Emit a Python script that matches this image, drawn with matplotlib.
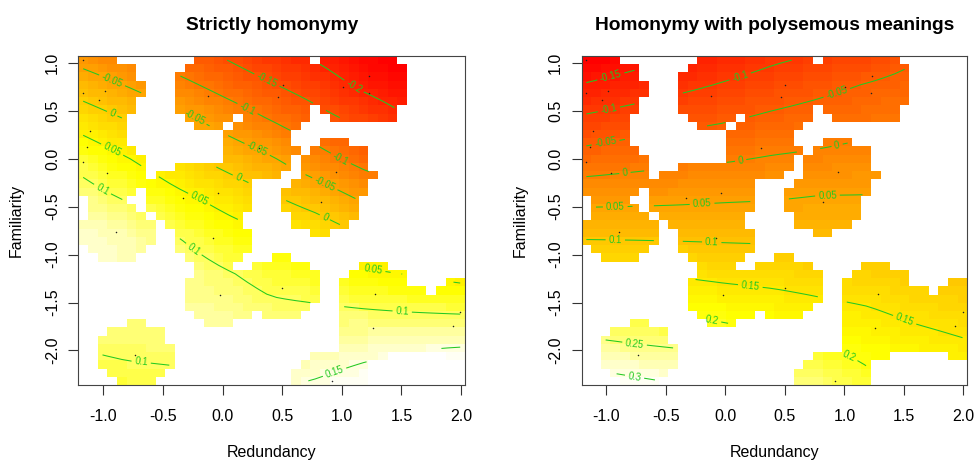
import colorsys
import numpy as np
import matplotlib
matplotlib.use('Agg')
import matplotlib.pyplot as plt
from matplotlib.colors import ListedColormap, Normalize

plt.rcParams['font.family'] = ['Liberation Sans', 'DejaVu Sans']
plt.rcParams['axes.unicode_minus'] = False

# items (the dots): redundancy, familiarity
dot_x = [-1.168, -1.169, -0.986, -1.034, -1.109, -1.141, -1.169, -0.965, -0.893, -0.734,
         -0.334, -0.035, -0.077, -0.021, -0.119, 0.302, 0.468, 0.503, 1.231, 1.008,
         1.225, 0.950, 0.822, 0.499, 1.281, 1.260, 1.930, 1.993, 0.918]
dot_y = [1.028, 0.685, 0.709, 0.611, 0.284, 0.126, -0.033, -0.149, -0.767, -2.044,
         -0.411, -0.355, -0.830, -1.418, 0.656, 0.110, 0.638, 0.765, 0.857, 0.743,
         0.685, -0.136, -0.457, -1.350, -1.416, -1.768, -1.740, -1.604, -2.317]
# data without a dot, guessed from the shape of the white mask
hid_x = [0.05, 1.62]
hid_y = [1.0, -1.68]

# fitted surface, rows = fam_nodes (bottom to top)
red_nodes = [-1.17, -0.8, -0.4, 0.0, 0.4, 0.8, 1.2, 1.6, 1.99]
fam_nodes = [-2.32, -2.0, -1.6, -1.2, -0.8, -0.4, 0.0, 0.4, 0.8, 1.07]
fit_strict = [
    [0.085, 0.090, 0.093, 0.125, 0.143, 0.152, 0.165, 0.175, 0.190],
    [0.100, 0.105, 0.107, 0.130, 0.130, 0.131, 0.141, 0.150, 0.155],
    [0.120, 0.115, 0.125, 0.125, 0.110, 0.108, 0.104, 0.100, 0.097],
    [0.150, 0.140, 0.125, 0.105, 0.086, 0.073, 0.058, 0.047, 0.035],
    [0.145, 0.135, 0.101, 0.074, 0.054, 0.031, -0.002, -0.012, -0.025],
    [0.118, 0.095, 0.062, 0.035, 0.005, -0.024, -0.060, -0.075, -0.090],
    [0.083, 0.052, 0.018, -0.015, -0.045, -0.084, -0.118, -0.150, -0.170],
    [0.029, 0.000, -0.032, -0.067, -0.100, -0.133, -0.163, -0.200, -0.220],
    [-0.029, -0.057, -0.088, -0.120, -0.150, -0.178, -0.215, -0.240, -0.260],
    [-0.070, -0.096, -0.125, -0.152, -0.183, -0.208, -0.240, -0.260, -0.280],
]
fit_poly = [
    [0.320, 0.308, 0.296, 0.270, 0.255, 0.240, 0.210, 0.200, 0.185],
    [0.270, 0.260, 0.253, 0.236, 0.220, 0.205, 0.188, 0.172, 0.160],
    [0.210, 0.207, 0.197, 0.186, 0.177, 0.165, 0.155, 0.140, 0.130],
    [0.150, 0.150, 0.145, 0.138, 0.133, 0.126, 0.121, 0.110, 0.100],
    [0.094, 0.093, 0.092, 0.091, 0.090, 0.088, 0.088, 0.085, 0.080],
    [0.034, 0.036, 0.039, 0.043, 0.046, 0.052, 0.052, 0.055, 0.055],
    [-0.030, -0.020, -0.011, -0.005, 0.004, 0.010, 0.018, 0.025, 0.030],
    [-0.090, -0.077, -0.064, -0.053, -0.039, -0.028, -0.016, -0.005, 0.005],
    [-0.151, -0.134, -0.117, -0.099, -0.082, -0.066, -0.050, -0.035, -0.020],
    [-0.194, -0.173, -0.155, -0.130, -0.110, -0.096, -0.085, -0.055, -0.040],
]

n_grid = 40
too_far = 0.1


def heat_colors(n):
    j = n // 4
    i = n - j
    cols = [colorsys.hsv_to_rgb(h, 1, 1) for h in np.linspace(0, 1 / 6, i)]
    cols += [colorsys.hsv_to_rgb(1 / 6, s, 1) for s in np.linspace(1 - 1 / (2 * j), 1 / (2 * j), j)]
    return ListedColormap(cols)


gx = np.linspace(min(dot_x), max(dot_x), n_grid)
gy = np.linspace(min(dot_y), max(dot_y), n_grid)
ex = np.concatenate([[gx[0] - (gx[1] - gx[0]) / 2], (gx[1:] + gx[:-1]) / 2, [gx[-1] + (gx[1] - gx[0]) / 2]])
ey = np.concatenate([[gy[0] - (gy[1] - gy[0]) / 2], (gy[1:] + gy[:-1]) / 2, [gy[-1] + (gy[1] - gy[0]) / 2]])

# too.far exclusion, grid scaled to the unit square
all_x = np.array(dot_x + hid_x)
all_y = np.array(dot_y + hid_y)
sx = (gx - gx[0]) / (gx[-1] - gx[0])
sy = (gy - gy[0]) / (gy[-1] - gy[0])
px = (all_x - gx[0]) / (gx[-1] - gx[0])
py = (all_y - gy[0]) / (gy[-1] - gy[0])
GX, GY = np.meshgrid(sx, sy)
dist = np.sqrt((GX[..., None] - px) ** 2 + (GY[..., None] - py) ** 2).min(axis=-1)
too_far_mask = dist > too_far


def on_grid(table):
    t = np.array(table)
    rows = np.array([np.interp(gx, red_nodes, r) for r in t])
    z = np.array([np.interp(gy, fam_nodes, rows[:, k]) for k in range(n_grid)]).T
    return np.ma.masked_array(z, too_far_mask)


fig = plt.figure(figsize=(9.78, 4.61), dpi=100)
panels = [(fig.add_axes([0.0801, 0.1649, 0.3954, 0.7137]), fit_strict, "Strictly homonymy"),
          (fig.add_axes([0.5946, 0.1649, 0.3945, 0.7137]), fit_poly, "Homonymy with polysemous meanings")]

for ax, table, title in panels:
    z = on_grid(table)
    zmin, zmax = z.min(), z.max()
    ax.pcolormesh(ex, ey, z, cmap=heat_colors(50), norm=Normalize(zmin, zmax))
    levels = np.arange(np.ceil(zmin / 0.05) * 0.05, zmax, 0.05)
    cs = ax.contour(gx, gy, z, levels=levels, colors='#22c922', linewidths=0.75,
                    negative_linestyles='solid')
    ax.clabel(cs, fmt=lambda v: f'{round(v, 2) + 0:g}', fontsize=7, inline=True, inline_spacing=3)
    ax.scatter(dot_x, dot_y, s=1.2, c='#222222', linewidths=0, zorder=3)
    ax.set_xlim(ex[0], ex[-1])
    ax.set_ylim(ey[0], ey[-1])
    ax.set_xticks([-1.0, -0.5, 0.0, 0.5, 1.0, 1.5, 2.0])
    ax.set_xticklabels(['-1.0', '-0.5', '0.0', '0.5', '1.0', '1.5', '2.0'])
    ax.set_yticks([-2.0, -1.5, -1.0, -0.5, 0.0, 0.5, 1.0])
    ax.set_yticklabels(['-2.0', '-1.5', '-1.0', '-0.5', '0.0', '0.5', '1.0'], rotation=90, va='center')
    ax.tick_params(direction='out', length=7.2, width=0.8, labelsize=11.5, color='#333333')
    ax.tick_params(axis='x', pad=10)
    ax.tick_params(axis='y', pad=6)
    for s in ax.spines.values():
        s.set_color('#444444')
        s.set_linewidth(0.8)
    ax.set_xlabel("Redundancy", fontsize=11.5, labelpad=15)
    ax.set_ylabel("Familiarity", fontsize=11.5, labelpad=15)
    ax.set_title(title, fontsize=13.8, fontweight='bold', pad=19)

fig.savefig('out.png', dpi=100)
